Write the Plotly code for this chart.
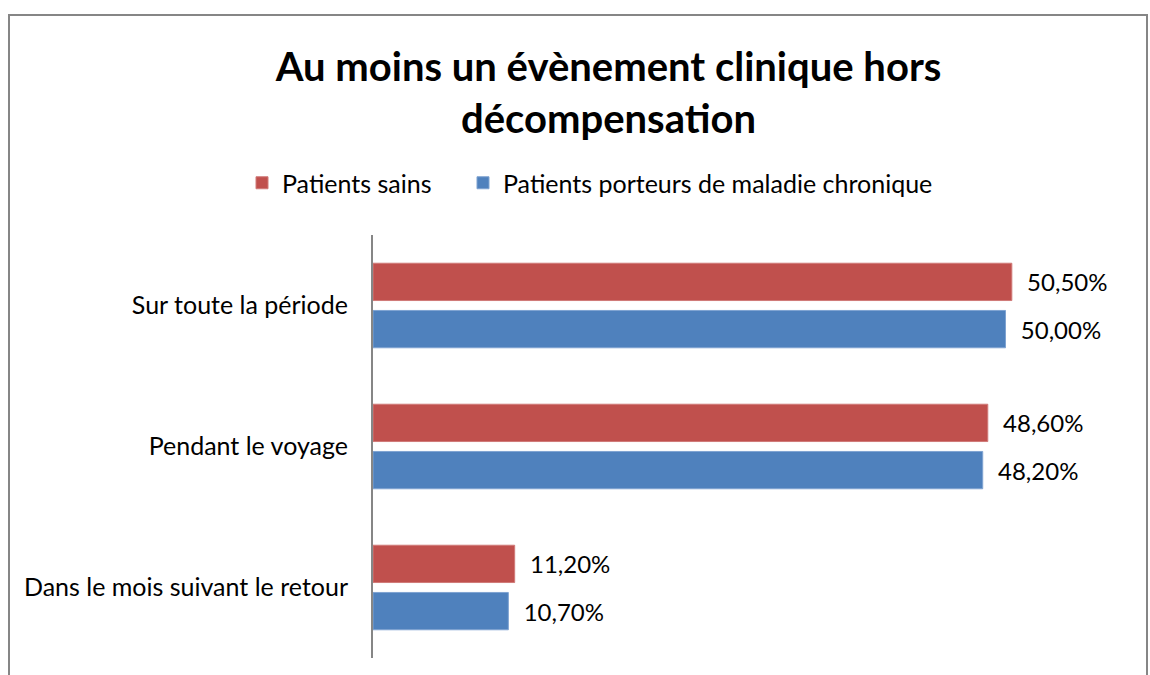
import plotly.graph_objects as go

categories = ["Sur toute la période", "Pendant le voyage", "Dans le mois suivant le retour"]
series_names = ["Patients sains", "Patients porteurs de maladie chronique"]
sains = [50.5, 48.6, 11.2]
chroniques = [50.0, 48.2, 10.7]
colors = ["#C0504D", "#4F81BD"]
line_colors = ["#D07A78", "#7FA3D1"]

W, H = 1150, 675
L, R, T, B = 373, 1140, 235, 658
xmax = (R - L) / 12.65

FONT = "Lato"

fig = go.Figure()
cats_rev = categories[::-1]
for name, vals, c, lc, lg in [(series_names[1], chroniques, colors[1], line_colors[1], "legend2"),
                              (series_names[0], sains, colors[0], line_colors[0], "legend")]:
    fig.add_trace(go.Bar(
        y=cats_rev, x=vals[::-1], name=name, orientation="h", legend=lg,
        marker=dict(color=c, line=dict(color=lc, width=1)),
        texttemplate="\u00a0\u00a0%{x:.2f}%", textposition="outside",
        textfont=dict(family=FONT, size=24, color="#000000"),
        cliponaxis=False,
    ))

legend_common = dict(orientation="h", xanchor="left", y=1 - 183 / H, yanchor="middle",
                     yref="container", xref="container",
                     font=dict(family=FONT, size=25, color="#000000"), itemwidth=30)

fig.update_layout(
    width=W, height=H,
    margin=dict(l=L, r=W - R, t=T, b=H - B, autoexpand=False),
    paper_bgcolor="white", plot_bgcolor="white",
    separators=",.",
    barmode="group", bargap=0.33, bargroupgap=0.21,
    title=dict(text="<b>Au moins un évènement clinique hors<br>décompensation</b>",
               x=608.5 / W, xanchor="center", y=1 - 81 / H, yanchor="middle",
               font=dict(family=FONT, size=40, color="#000000")),
    legend=dict(x=242 / W, **legend_common),
    legend2=dict(x=463 / W, **legend_common),
    xaxis=dict(range=[0, xmax], visible=False, showgrid=False, zeroline=False),
    yaxis=dict(showline=True, linecolor="#868686", linewidth=2,
               ticks="", showgrid=False,
               tickfont=dict(family=FONT, size=25, color="#000000"),
               ticklabelstandoff=18),
    showlegend=True,
)

# outer chart border
fig.add_shape(type="rect", xref="paper", yref="paper",
              x0=(9 - L) / (R - L), x1=(1147 - L) / (R - L),
              y0=(B - 690) / (B - T), y1=(B - 15) / (B - T),
              line=dict(color="#868686", width=2), fillcolor="rgba(0,0,0,0)", layer="below")

fig.write_html("out.html", config={"displayModeBar": False},
               post_script="document.body.style.margin='0';document.body.style.overflow='hidden';")
